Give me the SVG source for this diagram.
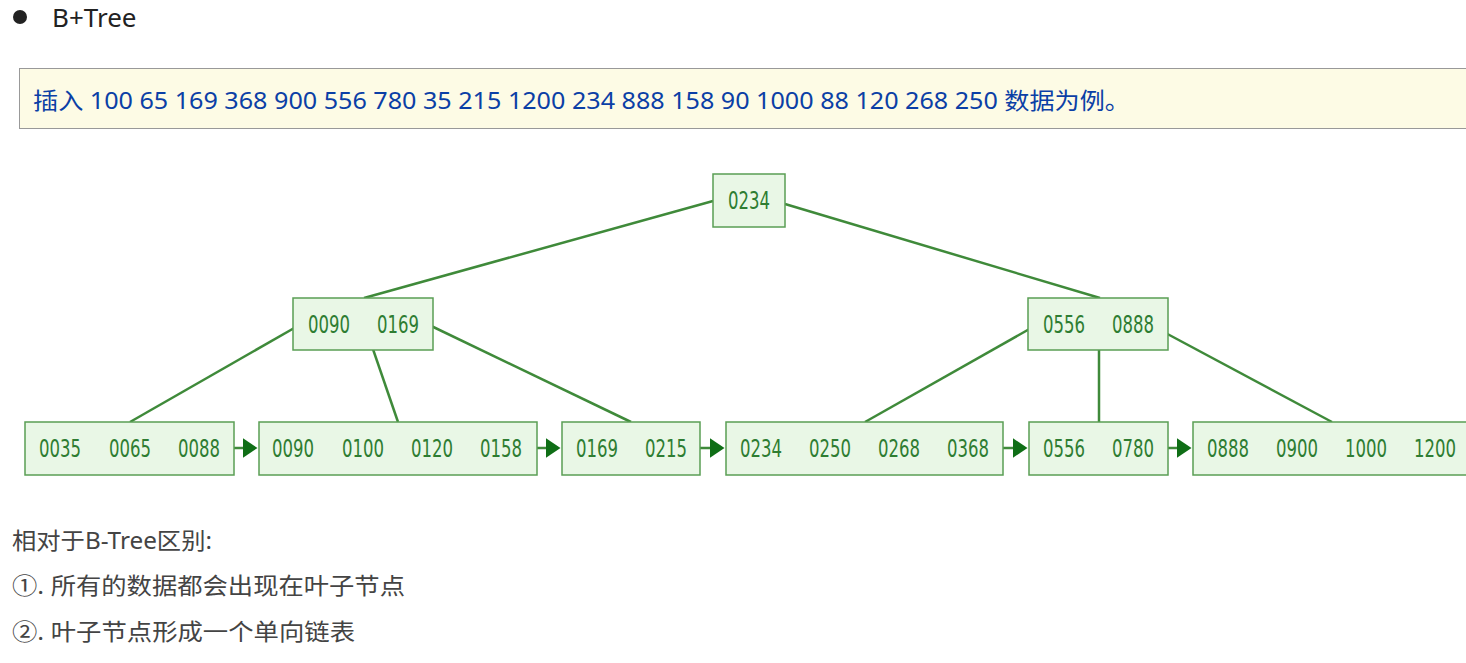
<svg xmlns="http://www.w3.org/2000/svg" width="1466" height="663" viewBox="0 0 1466 663">
<style>
.n rect{fill:#e9f7e6;stroke:#5a9e54;stroke-width:1.5}
.n text{font-family:"DejaVu Sans Condensed","Liberation Sans Narrow","Liberation Sans",sans-serif;font-size:24px;fill:#2e7d32;text-anchor:middle}
.e line{stroke:#3f8a3a;stroke-width:2.5}
.t{font-family:"Noto Sans","Noto Sans CJK SC",sans-serif}
</style>
<defs><marker id="a" markerWidth="6" markerHeight="8" refX="5" refY="4" orient="auto" markerUnits="strokeWidth"><path d="M0,0L6,4L0,8z" fill="#0f6e16"/></marker></defs>
<rect width="1466" height="663" fill="#fff"/>
<circle cx="20" cy="17" r="7" fill="#222"/>
<text class="t" x="52" y="27" font-size="26" fill="#222">B+Tree</text>
<rect x="19.5" y="68.5" width="1450" height="60" fill="#fdfbe5" stroke="#999"/>
<text class="t" x="33" y="109" font-size="23" fill="#0b3fa6" textLength="1097" lengthAdjust="spacingAndGlyphs">插入 100 65 169 368 900 556 780 35 215 1200 234 888 158 90 1000 88 120 268 250 数据为例。</text>
<g class="e">
<line x1="713" y1="201" x2="364" y2="298"/><line x1="785" y1="204" x2="1100" y2="298"/>
<line x1="303" y1="323" x2="130" y2="422"/><line x1="364" y1="323" x2="398" y2="422"/><line x1="425" y1="323" x2="631" y2="422"/>
<line x1="1040" y1="323" x2="865" y2="422"/><line x1="1099" y1="323" x2="1099" y2="422"/><line x1="1160" y1="330" x2="1332" y2="422"/>
<g stroke="#3f8a3a" stroke-width="3.5" marker-end="url(#a)">
<line x1="225" y1="448" x2="255" y2="448"/><line x1="528" y1="448" x2="558" y2="448"/><line x1="691" y1="448" x2="722" y2="448"/><line x1="994" y1="448" x2="1025" y2="448"/><line x1="1159" y1="448" x2="1189" y2="448"/>
</g>
</g>
<g id="root" class="n"><rect x="713" y="174" width="72" height="53"/><text x="749" y="209" textLength="42" lengthAdjust="spacingAndGlyphs">0234</text></g>
<g id="ml" class="n"><rect x="293" y="298" width="140" height="52"/><text x="329" y="333" textLength="42" lengthAdjust="spacingAndGlyphs">0090</text><text x="398" y="333" textLength="42" lengthAdjust="spacingAndGlyphs">0169</text></g>
<g id="mr" class="n"><rect x="1028" y="298" width="140" height="52"/><text x="1064" y="333" textLength="42" lengthAdjust="spacingAndGlyphs">0556</text><text x="1133" y="333" textLength="42" lengthAdjust="spacingAndGlyphs">0888</text></g>
<g id="l1" class="n"><rect x="25" y="422" width="209" height="53"/><text x="60" y="457" textLength="42" lengthAdjust="spacingAndGlyphs">0035</text><text x="130" y="457" textLength="42" lengthAdjust="spacingAndGlyphs">0065</text><text x="199" y="457" textLength="42" lengthAdjust="spacingAndGlyphs">0088</text></g>
<g id="l2" class="n"><rect x="259" y="422" width="278" height="53"/><text x="293" y="457" textLength="42" lengthAdjust="spacingAndGlyphs">0090</text><text x="363" y="457" textLength="42" lengthAdjust="spacingAndGlyphs">0100</text><text x="432" y="457" textLength="42" lengthAdjust="spacingAndGlyphs">0120</text><text x="501" y="457" textLength="42" lengthAdjust="spacingAndGlyphs">0158</text></g>
<g id="l3" class="n"><rect x="562" y="422" width="138" height="53"/><text x="597" y="457" textLength="42" lengthAdjust="spacingAndGlyphs">0169</text><text x="666" y="457" textLength="42" lengthAdjust="spacingAndGlyphs">0215</text></g>
<g id="l4" class="n"><rect x="726" y="422" width="277" height="53"/><text x="761" y="457" textLength="42" lengthAdjust="spacingAndGlyphs">0234</text><text x="830" y="457" textLength="42" lengthAdjust="spacingAndGlyphs">0250</text><text x="899" y="457" textLength="42" lengthAdjust="spacingAndGlyphs">0268</text><text x="968" y="457" textLength="42" lengthAdjust="spacingAndGlyphs">0368</text></g>
<g id="l5" class="n"><rect x="1029" y="422" width="139" height="53"/><text x="1064" y="457" textLength="42" lengthAdjust="spacingAndGlyphs">0556</text><text x="1133" y="457" textLength="42" lengthAdjust="spacingAndGlyphs">0780</text></g>
<g id="l6" class="n"><rect x="1193" y="422" width="290" height="53"/><text x="1228" y="457" textLength="42" lengthAdjust="spacingAndGlyphs">0888</text><text x="1297" y="457" textLength="42" lengthAdjust="spacingAndGlyphs">0900</text><text x="1366" y="457" textLength="42" lengthAdjust="spacingAndGlyphs">1000</text><text x="1435" y="457" textLength="42" lengthAdjust="spacingAndGlyphs">1200</text></g>
<g class="t" font-size="23" fill="#444">
<text x="12" y="549" textLength="200" lengthAdjust="spacingAndGlyphs">相对于B-Tree区别:</text>
<text x="12" y="594" textLength="393" lengthAdjust="spacingAndGlyphs">①. 所有的数据都会出现在叶子节点</text>
<text x="12" y="640" textLength="343" lengthAdjust="spacingAndGlyphs">②. 叶子节点形成一个单向链表</text>
</g>
</svg>
